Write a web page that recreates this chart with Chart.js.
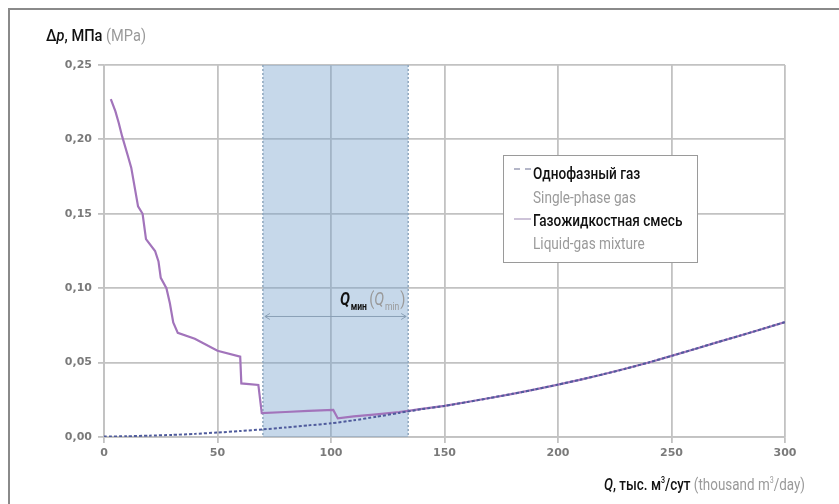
<!DOCTYPE html>
<html>
<head>
<meta charset="utf-8">
<script src="https://cdn.jsdelivr.net/npm/chart.js@4"></script>
<style>
    body { margin: 0; background: #fff; }
    #wrap { position: relative; width: 839px; height: 504px; overflow: hidden; }
    #frame { position: absolute; left: 8px; top: 8px; right: -4px; bottom: -4px;
             border-left: 2px solid #8a8a8a; border-top: 2px solid #8a8a8a; }
    .txt { position: absolute; font-family: "Roboto", "DejaVu Sans Condensed", sans-serif;
           white-space: nowrap; color: #111; line-height: 1; transform-origin: 0 0; font-weight: 500; }
    .gray { color: #9a9a9a; font-weight: 400; }
    #legend { position: absolute; left: 503px; top: 155px; width: 193px; height: 106px;
              border: 1px solid #9a9a9a; background: #fff; }
    #legend .txt { font-size: 16px; transform: scaleX(0.85); }
    .sample { position: absolute; left: 10px; width: 17px; height: 0; }
</style>
</head>
<body>
<div id="wrap">
    <canvas id="dpChart" width="839" height="504"></canvas>
    <div id="frame"></div>
    <div class="txt" style="left:46px; top:27px; font-size:17px; transform:scaleX(0.86);">Δ<i>p</i>, МПа <span class="gray">(MPa)</span></div>
    <div class="txt" style="left:604px; top:476px; font-size:17px; transform:scaleX(0.79);"><i>Q</i>, тыс. м<sup style="font-size:9px">3</sup>/сут <span class="gray">(thousand m<sup style="font-size:9px">3</sup>/day)</span></div>
    <div id="legend">
        <div class="sample" style="top:12px; border-top:2px dashed #b4b6c8;"></div>
        <div class="txt" style="left:29px; top:10px;">Однофазный газ</div>
        <div class="txt gray" style="left:29px; top:34px;">Single-phase gas</div>
        <div class="sample" style="top:62px; border-top:2px solid #cdc3d8;"></div>
        <div class="txt" style="left:29px; top:57px;">Газожидкостная смесь</div>
        <div class="txt gray" style="left:29px; top:80px;">Liquid-gas mixture</div>
    </div>
</div>
<script>
// Однофазный газ
const singleQ = [0, 10, 20, 30, 40, 50, 60, 70, 80, 90, 100, 110, 120, 130, 140, 150, 160, 170, 180, 190,
                 200, 210, 220, 230, 240, 250, 260, 270, 280, 290, 300];
const singleDp = [0.0003, 0.0005, 0.0009, 0.0014, 0.0021, 0.0030, 0.0040, 0.0051, 0.0064, 0.0078, 0.0092,
                  0.0112, 0.0136, 0.0162, 0.0187, 0.0209, 0.0235, 0.0262, 0.0290, 0.0320,
                  0.0352, 0.0386, 0.0422, 0.0460, 0.0501, 0.0545, 0.0590, 0.0636, 0.0680, 0.0726, 0.0772];

// Газожидкостная смесь
const mixQ = [3, 5, 6.5, 8, 10.5, 12, 15, 17, 18.5, 22.5, 24, 25, 27.5, 29, 30.5, 32.5, 40, 50, 60, 60.5,
              68, 69.5, 80, 90, 101, 103, 110, 120, 130, 134, 140, 150, 160, 170, 180, 190,
              200, 210, 220, 230, 240, 250, 260, 270, 280, 290, 300];
const mixDp = [0.227, 0.219, 0.211, 0.202, 0.189, 0.181, 0.155, 0.150, 0.133, 0.125, 0.118, 0.107, 0.100,
               0.090, 0.077, 0.070, 0.066, 0.058, 0.054, 0.036,
               0.035, 0.016, 0.0168, 0.0175, 0.0182, 0.0125, 0.0138, 0.0152, 0.0168, 0.0176, 0.0189,
               0.0209, 0.0235, 0.0262, 0.0290, 0.0320,
               0.0352, 0.0386, 0.0422, 0.0460, 0.0501, 0.0545, 0.0590, 0.0636, 0.0680, 0.0726, 0.0772];

// Зона Q мин
const qMinRange = [70, 134];
const qMinArrowDp = 0.081;

const xTicks = [0, 50, 100, 150, 200, 250, 300];
const yTicks = [0, 0.05, 0.10, 0.15, 0.20, 0.25];

const toPoints = (xs, ys) => xs.map((x, i) => ({ x: x, y: ys[i] }));

const qMinPlugin = {
    id: 'qMin',
    beforeDatasetsDraw(chart) {
        const { ctx, chartArea, scales } = chart;
        const x1 = scales.x.getPixelForValue(qMinRange[0]);
        const x2 = scales.x.getPixelForValue(qMinRange[1]);
        ctx.save();
        ctx.fillStyle = 'rgba(118, 163, 205, 0.42)';
        ctx.fillRect(x1, chartArea.top, x2 - x1, chartArea.bottom - chartArea.top);
        ctx.strokeStyle = '#8ea6bd';
        ctx.lineWidth = 1.5;
        ctx.setLineDash([2, 2]);
        [x1, x2].forEach(x => {
            ctx.beginPath();
            ctx.moveTo(x, chartArea.top);
            ctx.lineTo(x, chartArea.bottom);
            ctx.stroke();
        });
        ctx.restore();
    },
    afterDatasetsDraw(chart) {
        const { ctx, scales } = chart;
        const x1 = scales.x.getPixelForValue(qMinRange[0]) + 2;
        const x2 = scales.x.getPixelForValue(qMinRange[1]) - 2;
        const y = scales.y.getPixelForValue(qMinArrowDp);
        ctx.save();
        ctx.strokeStyle = '#8aa0b6';
        ctx.lineWidth = 1;
        ctx.beginPath();
        ctx.moveTo(x1, y); ctx.lineTo(x2, y);
        ctx.moveTo(x1 + 5, y - 3); ctx.lineTo(x1, y); ctx.lineTo(x1 + 5, y + 3);
        ctx.moveTo(x2 - 5, y - 3); ctx.lineTo(x2, y); ctx.lineTo(x2 - 5, y + 3);
        ctx.stroke();

        // подпись Q мин (Q min), сжатая по ширине
        const fam = 'Roboto, "DejaVu Sans Condensed", sans-serif';
        ctx.translate(340, y - 11);
        ctx.scale(0.78, 1);
        let x = 0;
        ctx.textBaseline = 'alphabetic';
        ctx.fillStyle = '#111';
        ctx.font = 'italic bold 19px ' + fam;
        ctx.fillText('Q', x, 0);
        x += ctx.measureText('Q').width + 1;
        ctx.font = 'bold 11px ' + fam;
        ctx.fillText('мин', x, 5);
        x += ctx.measureText('мин').width + 3;
        ctx.fillStyle = '#9a9a9a';
        ctx.font = '19px ' + fam;
        ctx.fillText('(', x, 0);
        x += ctx.measureText('(').width;
        ctx.font = 'italic 19px ' + fam;
        ctx.fillText('Q', x, 0);
        x += ctx.measureText('Q').width + 1;
        ctx.font = '11px ' + fam;
        ctx.fillText('min', x, 5);
        x += ctx.measureText('min').width + 1;
        ctx.font = '19px ' + fam;
        ctx.fillText(')', x, 0);
        ctx.restore();
    }
};

const gridColor = '#c2c2c2';
const tickFont = { family: 'DejaVu Sans', size: 11, weight: 'bold' };

new Chart(document.getElementById('dpChart').getContext('2d'), {
    type: 'line',
    data: {
        datasets: [
            {
                label: 'Однофазный газ',
                data: toPoints(singleQ, singleDp),
                borderColor: '#4f5b9c',
                borderWidth: 2,
                borderDash: [3, 2],
                pointRadius: 0,
                tension: 0.2
            },
            {
                label: 'Газожидкостная смесь',
                data: toPoints(mixQ, mixDp),
                borderColor: '#a274bb',
                borderWidth: 2.2,
                pointRadius: 0,
                tension: 0
            }
        ]
    },
    options: {
        responsive: false,
        animation: false,
        layout: { padding: { top: 65, right: 54, left: 0, bottom: 0 } },
        plugins: { legend: { display: false }, tooltip: { enabled: false } },
        scales: {
            x: {
                type: 'linear',
                min: 0,
                max: 300,
                afterBuildTicks: s => { s.ticks = xTicks.map(v => ({ value: v })); },
                afterFit: s => { s.height = 67; },
                grid: { color: gridColor, lineWidth: 1.8, tickLength: 6 },
                border: { color: gridColor, width: 1.8 },
                ticks: { font: tickFont, color: '#7a7a7a', padding: 4, maxRotation: 0 }
            },
            y: {
                min: 0,
                max: 0.25,
                afterBuildTicks: s => { s.ticks = yTicks.map(v => ({ value: v })); },
                afterFit: s => { s.width = 104; },
                grid: { color: gridColor, lineWidth: 1.8, tickLength: 6 },
                border: { color: gridColor, width: 1.8 },
                ticks: {
                    font: tickFont,
                    color: '#7a7a7a',
                    padding: 6,
                    callback: v => v.toFixed(2).replace('.', ',')
                }
            }
        }
    },
    plugins: [qMinPlugin]
});
</script>
</body>
</html>
